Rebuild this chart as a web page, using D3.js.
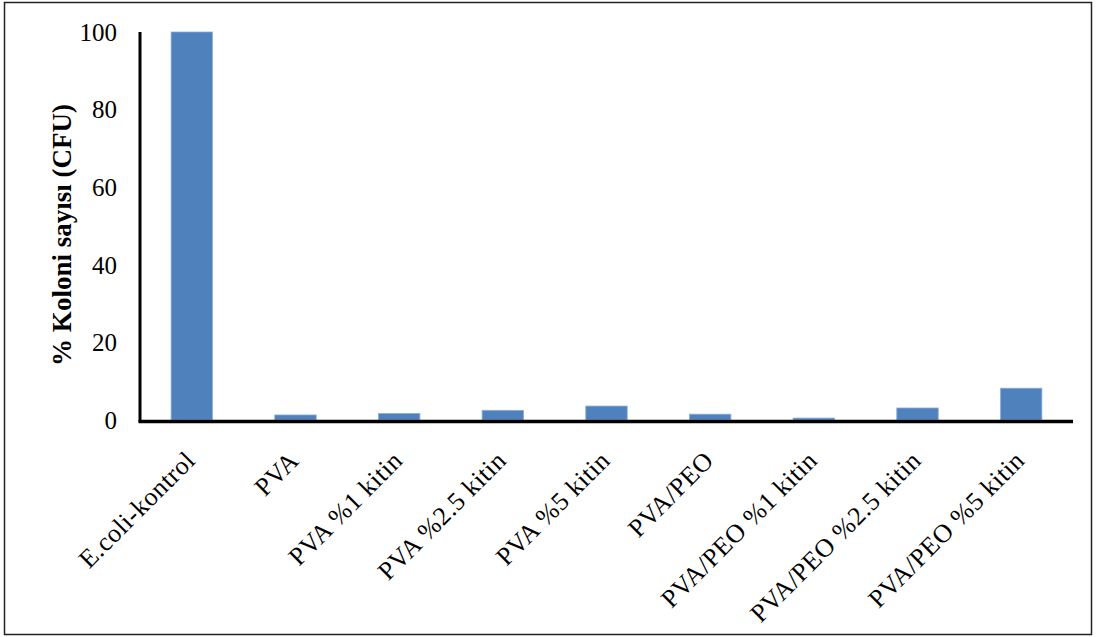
<!DOCTYPE html>
<html>
<head>
<meta charset="utf-8">
<script src="https://cdn.jsdelivr.net/npm/d3@7"></script>
<style>
  html, body { margin: 0; padding: 0; background: #fff; }
  svg { display: block; }
</style>
</head>
<body>
<svg id="chart" width="1096" height="637"></svg>
<script>
// Colony count (% CFU) relative to E. coli control
const categories = [
  "E.coli-kontrol", "PVA", "PVA %1 kitin", "PVA %2.5 kitin", "PVA %5 kitin",
  "PVA/PEO", "PVA/PEO %1 kitin", "PVA/PEO %2.5 kitin", "PVA/PEO %5 kitin"
];
const values = [100, 1.3, 1.7, 2.5, 3.6, 1.5, 0.5, 3.1, 8.2];
const yTicks = [0, 20, 40, 60, 80, 100];
const yTitle = "% Koloni sayısı (CFU)";

const svg = d3.select("#chart");
const W = 1096, H = 637;
const plotLeft = 140, plotRight = 1073, plotTop = 32, plotBottom = 420;

// outer frame
svg.append("rect")
  .attr("x", 4.5).attr("y", 2.5)
  .attr("width", W - 9).attr("height", H - 5)
  .attr("fill", "none").attr("stroke", "#222").attr("stroke-width", 1.5);

const x = d3.scaleBand().domain(categories).range([plotLeft, plotRight]).paddingInner(0.6).paddingOuter(0.3);
const y = d3.scaleLinear().domain([0, 100]).range([plotBottom, plotTop]);

// bars
svg.append("g").selectAll("rect")
  .data(values)
  .join("rect")
  .attr("x", (d, i) => x(categories[i]))
  .attr("y", d => y(d))
  .attr("width", x.bandwidth())
  .attr("height", d => y(0) - y(d))
  .attr("fill", "#4F81BD")
  .attr("stroke", "#8fb0d9")
  .attr("stroke-width", 0.8);

const font = "'Liberation Serif', 'Times New Roman', serif";

// y axis
const yAxis = svg.append("g")
  .attr("transform", `translate(${plotLeft},0)`)
  .call(d3.axisLeft(y).tickValues(yTicks).tickSize(0).tickPadding(23));
yAxis.select(".domain").attr("stroke", "#000").attr("stroke-width", 3)
  .attr("d", `M0,${plotTop}V${plotBottom + 2}`);
yAxis.selectAll("text")
  .attr("font-family", font).attr("font-size", 25).attr("fill", "#000")
  .attr("dy", "0.33em");

// x axis
const xAxis = svg.append("g")
  .attr("transform", `translate(0,${plotBottom})`)
  .call(d3.axisBottom(x).tickSize(0).tickPadding(0));
xAxis.select(".domain").attr("stroke", "#000").attr("stroke-width", 3.5)
  .attr("d", `M${plotLeft - 1.5},1.5H${plotRight}`);
xAxis.selectAll("text")
  .attr("font-family", font).attr("font-size", 26).attr("fill", "#000")
  .attr("letter-spacing", 0.5)
  .attr("text-anchor", "end")
  .attr("dy", 0)
  .attr("transform", "translate(5,42) rotate(-45)");

// y axis title
svg.append("text")
  .attr("transform", `translate(71,235) rotate(-90)`)
  .attr("text-anchor", "middle")
  .attr("font-family", font).attr("font-size", 27).attr("font-weight", "bold")
  .text(yTitle);
</script>
</body>
</html>
